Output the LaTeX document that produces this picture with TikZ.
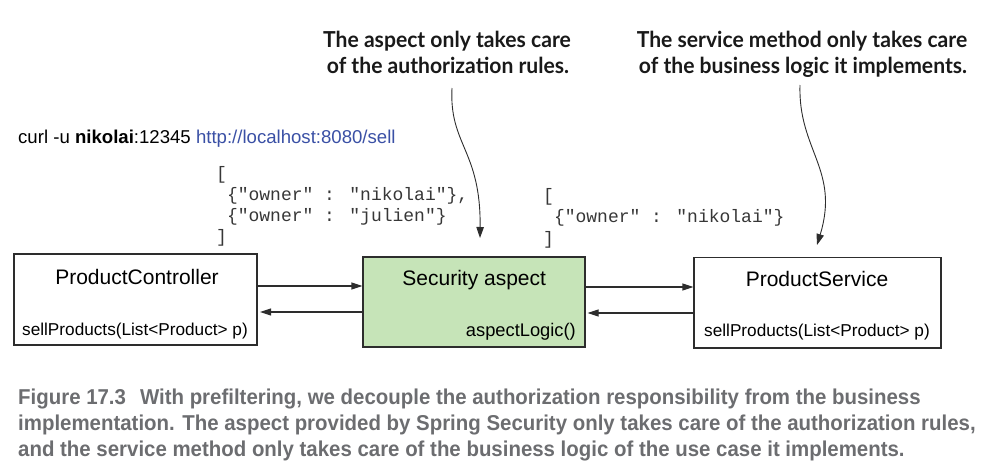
\documentclass[tikz,border=0pt]{standalone}
\usepackage{fontspec}
\setmainfont{Liberation Sans}
\newfontfamily\annfont{Lato}[FakeStretch=0.96]
\newfontfamily\capfont{Liberation Sans}[FakeStretch=0.95]
\newfontfamily\jsonfont{Liberation Mono}
\usetikzlibrary{arrows.meta}
\definecolor{boxline}{RGB}{45,45,45}
\definecolor{aspectgreen}{RGB}{198,228,184}
\definecolor{urlblue}{RGB}{58,80,165}
\definecolor{capgray}{RGB}{108,109,112}
\definecolor{jsongray}{RGB}{55,55,55}
\begin{document}
\begin{tikzpicture}[x=1pt,y=-1pt,
  box/.style={draw=boxline,line width=1.1pt,inner sep=0pt},
  title/.style={anchor=base,inner sep=0pt,font=\fontsize{21pt}{25pt}\selectfont},
  method/.style={anchor=base west,inner sep=0pt,font=\fontsize{17.2pt}{20pt}\selectfont},
  json/.style={anchor=base west,inner sep=0pt,text=jsongray,font=\jsonfont\fontsize{18pt}{21pt}\selectfont},
  ann/.style={anchor=base,inner sep=0pt,text=black!90,font=\annfont\bfseries\fontsize{22pt}{26pt}\selectfont},
  capline/.style={anchor=base west,inner sep=0pt,text=capgray,font=\capfont\bfseries\fontsize{21.5pt}{26pt}\selectfont},
  flow/.style={draw=boxline,line width=1.1pt,-{Triangle[length=11pt,width=7pt]}},
  note/.style={draw=boxline,line width=0.9pt,-{Triangle[length=11pt,width=7.5pt]}}]
\useasboundingbox (0,0) rectangle (994,474);

% boxes
\node[box,minimum width=243pt,minimum height=91pt] (pc) at (135.5,299.5) {};
\node[box,fill=aspectgreen,minimum width=222pt,minimum height=90pt] (sa) at (474,302) {};
\node[box,minimum width=247pt,minimum height=90.5pt] (ps) at (817.5,302.75) {};

% box texts
\node[title] (pct) at (137,284.3) {ProductController};
\node[method] (pcm) at (22,335) {sellProducts(List<Product> p)};
\node[title] (sat) at (474.2,285) {Security aspect};
\node[anchor=base east,inner sep=0pt,font=\fontsize{18.3pt}{21pt}\selectfont] (sam) at (576,336) {aspectLogic()};
\node[title] (pst) at (817,286.5) {ProductService};
\node[method] (psm) at (704,336) {sellProducts(List<Product> p)};

% request line
\node[anchor=base west,inner sep=0pt,font=\fontsize{18.6pt}{22pt}\selectfont] (curl) at (18,143)
  {curl -u \textbf{nikolai}:12345 \textcolor{urlblue}{http://localhost:8080/sell}};

% json block 1
\node[json] (j1a) at (216,179) {[};
\node[json] (j1b) at (216,200) {\ \{"owner" : "nikolai"\},};
\node[json] (j1c) at (216,221) {\ \{"owner" : "julien"\}};
\node[json] (j1d) at (216,242) {]};
% json block 2
\node[json] (j2a) at (543,201) {[};
\node[json] (j2b) at (543,222.5) {\ \{"owner" : "nikolai"\}};
\node[json] (j2c) at (543,244) {]};

% annotations
\node[ann] (an1a) at (447,47.3) {The aspect only takes care};
\node[ann] (an1b) at (448,73.3) {of the authorization rules.};
\node[ann] (an2a) at (802,47.3) {The service method only takes care};
\node[ann] (an2b) at (803,73.3) {of the business logic it implements.};

% connectors between boxes
\coordinate (r1) at (0,286);
\coordinate (r2) at (0,312);
\coordinate (r3) at (0,287);
\coordinate (r4) at (0,313);
\draw[flow] (pc.east |- r1) -- (sa.west |- r1);
\draw[flow] (sa.west |- r2) -- ([xshift=2.5pt]pc.east |- r2);
\draw[flow] (sa.east |- r3) -- (ps.west |- r3);
\draw[flow] (ps.west |- r4) -- ([xshift=2pt]sa.east |- r4);

% annotation arrows
\coordinate (a1s) at (452,88);
\coordinate (a1e) at (480,238);
\coordinate (a2s) at (800,85);
\coordinate (a2e) at (817,245);
\draw[note] (a1s) .. controls (449,145) and (481,150) .. (a1e);
\draw[note] (a2s) .. controls (798,150) and (840,170) .. (a2e);

% caption
\node[capline] (c1) at (18,404) {Figure 17.3\hspace{14pt}With prefiltering, we decouple the authorization responsibility from the business};
\node[capline] (c2) at (18,430) {implementation. The aspect provided by Spring Security only takes care of the authorization rules,};
\node[capline] (c3) at (18,456) {and the service method only takes care of the business logic of the use case it implements.};
\end{tikzpicture}
\end{document}
